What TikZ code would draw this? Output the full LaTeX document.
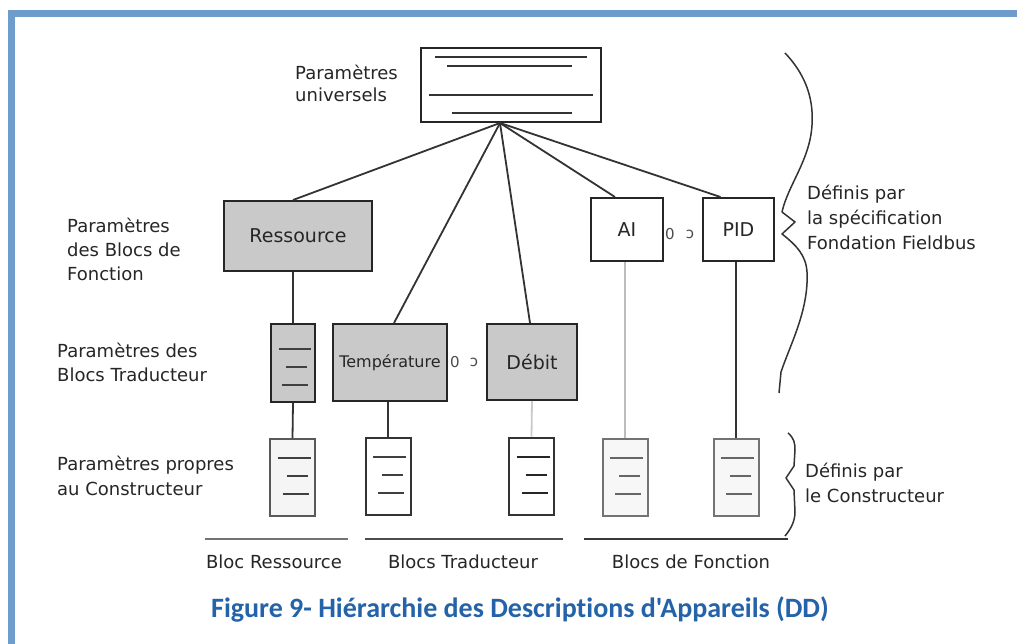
\documentclass[tikz,border=0pt]{standalone}
\usepackage{fontspec}
\newfontfamily\dvfont{DejaVu Sans}
\newfontfamily\capfont[Ligatures=NoCommon]{Carlito}
\usetikzlibrary{calc}
\definecolor{frameblue}{HTML}{6E9CCB}
\definecolor{capblue}{HTML}{2563A9}
\definecolor{boxgray}{HTML}{C9C9C9}
\definecolor{lightline}{HTML}{BDBDBD}
\newcommand\mblines[2][black!75]{%
  \draw[inl,#1] ($(#2.north)+(-15,20)$) -- ++(33,0);
  \draw[inl,#1] ($(#2.north)+(-6,38)$) -- ++(21,0);
  \draw[inl,#1] ($(#2.north)+(-10,56)$) -- ++(26,0);}
\begin{document}
\begin{tikzpicture}[x=1pt,y=-1pt,
  box/.style={draw=black!85,line width=2pt,inner sep=0pt,fill=white,
    font=\dvfont\fontsize{19}{22}\selectfont,text=black!85},
  graybox/.style={box,fill=boxgray},
  mbox/.style={draw=black!80,line width=2pt,fill=white,minimum width=45pt,minimum height=77pt,inner sep=0pt},
  lbl/.style={anchor=west,align=left,inner sep=0pt,text=black!85},
  blbl/.style={inner sep=0pt,text=black!85,font=\dvfont\fontsize{18}{22}\selectfont},
  sym/.style={inner sep=0pt,text=black!70,font=\dvfont\fontsize{15}{18}\selectfont},
  link/.style={line width=1.8pt,draw=black!80},
  inl/.style={line width=2pt},
  brace/.style={line width=1.5pt,draw=black!80,line join=round},
  baseline/.style={line width=2.2pt}
]
\useasboundingbox (0,0) rectangle (1017,644);
\fill[white] (0,0) rectangle (1017,644);
\fill[frameblue] (8,10) rectangle (1017,17);
\fill[frameblue] (8,10) rectangle (15,644);

% top box
\node[box,minimum width=180pt,minimum height=74pt] (top) at (511,85) {};
\draw[inl,black!80] ($(top.center)+(-76,-28)$) -- ++(152,0);
\draw[inl,black!80] ($(top.center)+(-64,-19)$) -- ++(125,0);
\draw[inl,black!80] ($(top.center)+(-82,10)$) -- ++(164,0);
\draw[inl,black!80] ($(top.center)+(-59,28)$) -- ++(120,0);
\coordinate (hub) at ($(top.south)+(-11,0)$);

% function block level
\node[graybox,minimum width=148pt,minimum height=70pt] (res) at (298,236) {Ressource};
\node[box,minimum width=72pt,minimum height=63pt] (ai) at (627,229.5) {AI};
\node[box,minimum width=71pt,minimum height=63pt] (pid) at (738.5,229.5) {PID};
\node[sym] (s1) at (670,234) {0};
\node[sym] (s2) at (690,234) {ɔ};

% transducer level
\node[graybox,minimum width=44pt,minimum height=78pt] (tb1) at (293,363) {};
\draw[inl,black!75] ($(tb1.north)+(-14,26)$) -- ++(32,0);
\draw[inl,black!75] ($(tb1.north)+(-7,43.5)$) -- ++(21,0);
\draw[inl,black!75] ($(tb1.north)+(-11,62)$) -- ++(26,0);
\node[graybox,minimum width=114pt,minimum height=77pt,font=\dvfont\fontsize{16}{20}\selectfont] (temp) at (390,362.5) {Température};
\node[graybox,minimum width=90pt,minimum height=76pt] (deb) at (532,362) {Débit};
\node[sym] (s3) at (455,362) {0};
\node[sym] (s4) at (474,362) {ɔ};

% manufacturer level
\node[mbox,draw=black!65,fill=black!4] (mb1) at (292.5,477.5) {};
\node[mbox] (mb2) at (388,476.5) {};
\node[mbox] (mb3) at (531.5,476) {};
\node[mbox,draw=black!55,fill=black!3] (mb4) at (625,477) {};
\node[mbox,draw=black!55,fill=black!3] (mb5) at (736,477) {};
\mblines{mb1}
\mblines{mb2}
\mblines[black!85]{mb3}
\mblines[black!60]{mb4}
\mblines[black!60]{mb5}

% connectors
\draw[link] (hub) -- ($(res.north)+(-5,0)$);
\draw[link] (hub) -- ($(temp.north)+(4,0)$);
\draw[link] (hub) -- ($(deb.north)+(-2,0)$);
\draw[link] (hub) -- ($(ai.north)+(-12,0)$);
\draw[link] (hub) -- ($(pid.north)+(-18,0)$);
\draw[link] (tb1.north) -- (tb1.north |- res.south);
\draw[link] (tb1.south) -- (mb1.north);
\draw[link] (mb2.north) -- (mb2.north |- temp.south);
\draw[link,draw=lightline!80] (deb.south) -- (mb3.north);
\draw[link,draw=lightline] (mb4.north) -- (mb4.north |- ai.south);
\draw[link] (mb5.north) -- (mb5.north |- pid.south);

% braces
\draw[brace] (785,53) .. controls (803,72) and (814,95) .. (812,125)
  .. controls (810,160) and (788,185) .. (782,212) -- (795,222) -- (782,234)
  .. controls (796,245) and (806,255) .. (807,272)
  .. controls (809,310) and (790,345) .. (781,372) -- (779,393);
\draw[brace] (788,433) .. controls (794,438) and (795,443) .. (795,450) -- (794,466)
  -- (786,478) -- (794,490) -- (795,512) .. controls (795,522) and (790,530) .. (785,536);

% bottom group lines
\draw[baseline,black!55] (205,539) -- (348,539);
\draw[baseline,black!70] (365,539) -- (563,539);
\draw[baseline,black!78] (584,539) -- (788,539);

% labels
\node[lbl,font=\dvfont\fontsize{18}{22}\selectfont] (l1) at (295,83) {Paramètres\\universels};
\node[lbl,font=\dvfont\fontsize{18}{24}\selectfont] (l2) at (67,249) {Paramètres\\des Blocs de\\Fonction};
\node[lbl,font=\dvfont\fontsize{18}{24}\selectfont] (l3) at (57,362) {Paramètres des\\Blocs Traducteur};
\node[lbl,font=\dvfont\fontsize{18}{25}\selectfont] (l4) at (57,476) {Paramètres propres\\au Constructeur};
\node[lbl,font=\dvfont\fontsize{18}{25}\selectfont] (r1) at (807,217) {Définis par\\la spécification\\Fondation Fieldbus};
\node[lbl,font=\dvfont\fontsize{18}{25}\selectfont] (r2) at (805,483) {Définis par\\le Constructeur};
\node[blbl] (b1) at (274,562) {Bloc Ressource};
\node[blbl] (b2) at (463,562) {Blocs Traducteur};
\node[blbl] (b3) at (691,562) {Blocs de Fonction};

% caption
\node[inner sep=0pt,text=capblue,font=\capfont\bfseries\fontsize{28}{32}\selectfont] (cap) at (520,609)
  {Figure 9- Hiérarchie des Descriptions d'Appareils (DD)};
\end{tikzpicture}
\end{document}
